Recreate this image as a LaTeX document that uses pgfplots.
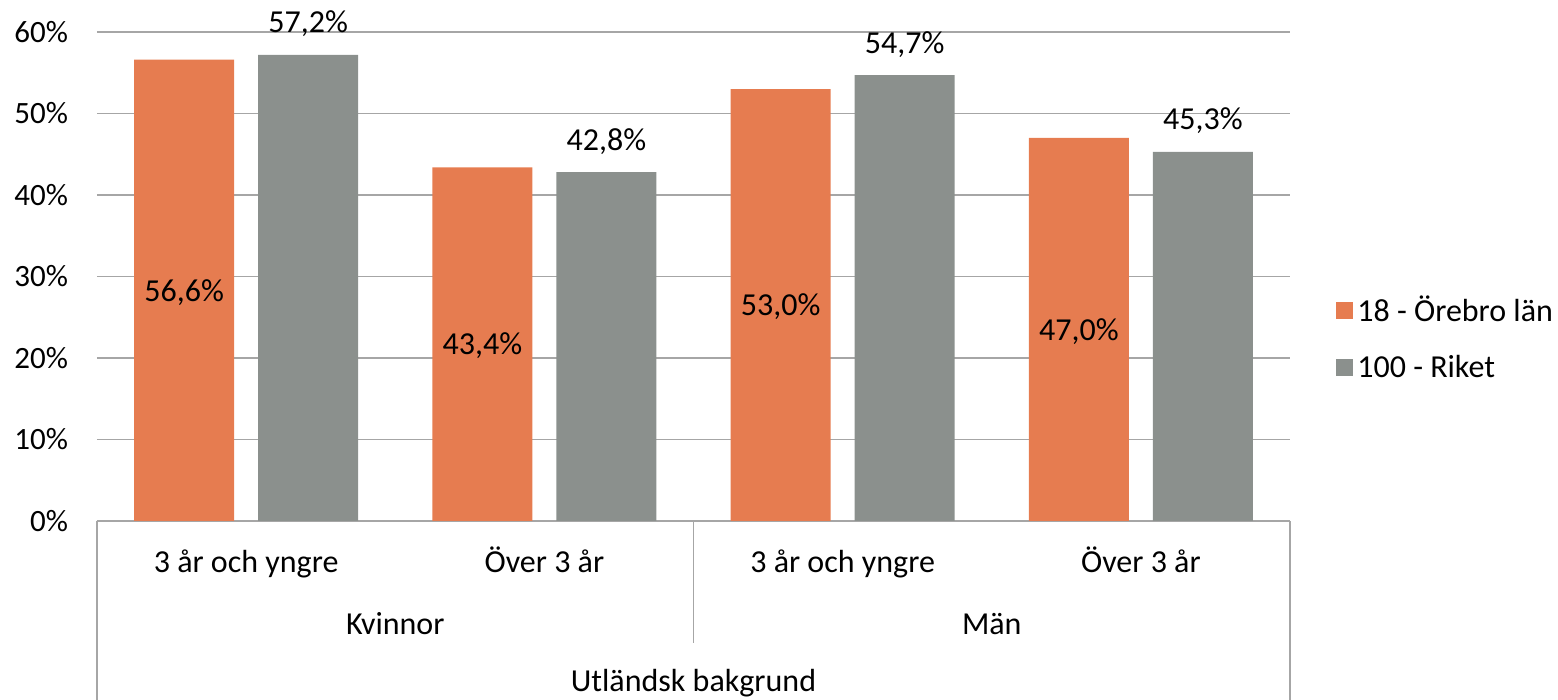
\documentclass[border=0pt]{standalone}
\usepackage{pgfplots}
\pgfplotsset{compat=1.18}
\usepackage{fontspec}
\setmainfont{Carlito}
\definecolor{orebro}{HTML}{E67C50}
\definecolor{riket}{HTML}{8B908D}
\definecolor{gridc}{HTML}{A6A6A6}
\newcommand{\lf}{\fontsize{16pt}{19pt}\selectfont}
\begin{document}
\begin{tikzpicture}[font=\lf]
\begin{axis}[
  scale only axis, width=596.5pt, height=244.5pt,
  xmin=0, xmax=4, ymin=0, ymax=60,
  clip=false,
  axis y line*=left, y axis line style={draw=none},
  axis x line*=bottom, x axis line style={draw=gridc, line width=0.6pt},
  xtick=\empty,
  ytick={0,10,...,60},
  yticklabel={\pgfmathprintnumber{\tick}\%},
  yticklabel style={xshift=-11pt, font=\fontsize{15.5pt}{18pt}\selectfont},
  major tick length=0pt,
  ymajorgrids, grid style={gridc, line width=0.6pt},
  /pgf/number format/assume math mode=true,
  legend style={at={(1.0335,0.374)}, anchor=west, draw=none, fill=none,
    row sep=11pt, font=\lf},
  legend cell align=left,
  legend image code/.code={\fill[#1] (0pt,-4.25pt) rectangle (8.5pt,4.25pt);},
]
\addplot[ybar, bar width=50pt, bar shift=-31pt, fill=orebro, draw=none]
  coordinates {(0.5,56.6) (1.5,43.4) (2.5,53.0) (3.5,47.0)};
\addlegendentry{18 - Örebro län}
\addplot[ybar, bar width=50pt, bar shift=31pt, fill=riket, draw=none,
  nodes near coords={\pgfmathprintnumber[use comma, fixed, fixed zerofill, precision=1, assume math mode=true]{\pgfplotspointmeta}\%},
  every node near coord/.append style={anchor=base, yshift=11pt, xshift=31pt, black, font=\lf}]
  coordinates {(0.5,57.2) (1.5,42.8) (2.5,54.7) (3.5,45.3)};
\addlegendentry{100 - Riket}
% labels inside orange bars (at half height)
\node[xshift=-31pt, yshift=-1pt] at (axis cs:0.5,28.3) {56,6\%};
\node[xshift=-31pt, yshift=-1pt] at (axis cs:1.5,21.7) {43,4\%};
\node[xshift=-31pt, yshift=-1pt] at (axis cs:2.5,26.5) {53,0\%};
\node[xshift=-31pt, yshift=-1pt] at (axis cs:3.5,23.5) {47,0\%};
% category axis
\draw[gridc, line width=0.6pt] (axis cs:0,0) -- (axis cs:0,-21.96);
\draw[gridc, line width=0.6pt] (axis cs:2,0) -- (axis cs:2,-14.97);
\draw[gridc, line width=0.6pt] (axis cs:4,0) -- (axis cs:4,-21.96);
\node[anchor=base] at (axis cs:0.5,-6.38) {3 år och yngre};
\node[anchor=base] at (axis cs:1.5,-6.38) {Över 3 år};
\node[anchor=base] at (axis cs:2.5,-6.38) {3 år och yngre};
\node[anchor=base] at (axis cs:3.5,-6.38) {Över 3 år};
\node[anchor=base] at (axis cs:1,-13.87) {Kvinnor};
\node[anchor=base] at (axis cs:3,-13.87) {Män};
\node[anchor=base] at (axis cs:2,-20.9) {Utländsk bakgrund};
\coordinate (bl) at (rel axis cs:0,0);
\coordinate (tr) at (rel axis cs:1,1);
\end{axis}
\pgfresetboundingbox
\path ([xshift=-48.5pt,yshift=-89.5pt]bl) rectangle ([xshift=134pt,yshift=16pt]tr);
\end{tikzpicture}
\end{document}
